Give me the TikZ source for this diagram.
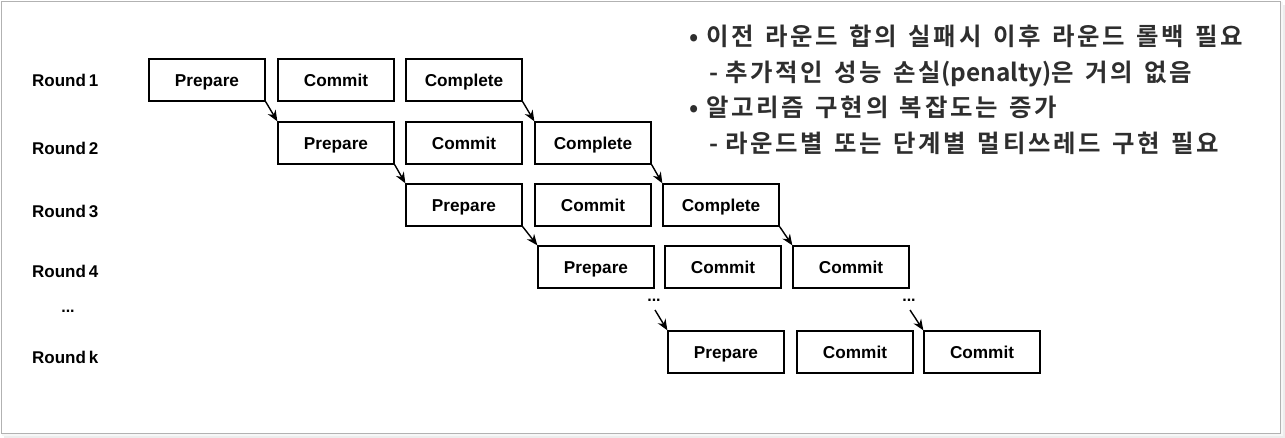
\documentclass[tikz,border=0pt]{standalone}
\usepackage{fontspec}
\setmainfont{Liberation Sans}
\newfontfamily\kor{Noto Sans CJK KR}[BoldFont={* Bold},LetterSpace=11,WordSpace=1.4]
\newfontfamily\korlat{Noto Sans CJK KR}[BoldFont={* Bold}]
\usetikzlibrary{arrows.meta}
\begin{document}
\begin{tikzpicture}[x=1pt,y=-1pt,
  stage/.style={draw=black,line width=1.3pt,minimum width=116pt,minimum height=42pt,inner sep=0pt,
    text height=12.2pt,text depth=0pt,
    font=\fontsize{17.2}{18}\selectfont\bfseries},
  rlabel/.style={anchor=west,inner sep=0pt,font=\fontsize{17}{18}\selectfont\bfseries},
  link/.style={line width=1.4pt,-{Stealth[length=11pt,width=9pt]}},
  dotsl/.style={inner sep=0pt,font=\fontsize{16}{18}\selectfont\bfseries},
  kline/.style={anchor=west,inner sep=0pt,text=black!82,font=\fontsize{24.4}{26}\selectfont\kor\bfseries}]
\useasboundingbox (0,0) rectangle (1285,438);
% frame with shadow
\fill[black!7] (4,5) rectangle (1285,438);
\fill[black!3] (2,2) rectangle (1283,436);
\fill[white] (2,2) rectangle (1280,433);
\draw[black!30,line width=1.5pt] (1.5,1.5) rectangle (1280.5,433.5);
% round labels
\node[rlabel] (r1) at (32,80) {Round\,1};
\node[rlabel] (r2) at (32,148) {Round\,2};
\node[rlabel] (r3) at (32,211) {Round\,3};
\node[rlabel] (r4) at (32,271) {Round\,4};
\node[dotsl] (rd) at (68,311) {...};
\node[rlabel] (rk) at (32,357) {Round\,k};
% row 1
\node[stage] (p1) at (207,80) {Prepare};
\node[stage] (c1) at (336,80) {Commit};
\node[stage] (f1) at (464,80) {Complete};
% row 2
\node[stage] (p2) at (336,143) {Prepare};
\node[stage] (c2) at (464,143) {Commit};
\node[stage] (f2) at (593,143) {Complete};
% row 3
\node[stage] (p3) at (464,205) {Prepare};
\node[stage] (c3) at (593,205) {Commit};
\node[stage] (f3) at (721,205) {Complete};
% row 4
\node[stage] (p4) at (596,267) {Prepare};
\node[stage] (c4) at (723,267) {Commit};
\node[stage] (f4) at (851,267) {Commit};
% row k
\node[stage] (pk) at (726,352) {Prepare};
\node[stage] (ck) at (855,352) {Commit};
\node[stage] (fk) at (982,352) {Commit};
% dots
\node[dotsl] (d1) at (654,300) {...};
\node[dotsl] (d2) at (909,300) {...};
\coordinate (d1b) at (655,310);
\coordinate (d2b) at (910,310);
% arrows
\draw[link] (p1.south east) -- (p2.north west);
\draw[link] (f1.south east) -- (f2.north west);
\draw[link] (p2.south east) -- (p3.north west);
\draw[link] (f2.south east) -- (f3.north west);
\draw[link] (p3.south east) -- (p4.north west);
\draw[link] (f3.south east) -- (f4.north west);
\draw[link] (d1b) -- (pk.north west);
\draw[link] (d2b) -- (fk.north west);
% Korean text
\node[kline] (k1) at (689,36) {•\hspace{8pt}이전 라운드 합의 실패시 이후 라운드 롤백 필요};
\node[kline] (k2) at (709,74) {-\hspace{7pt}추가적인 성능 손실{\korlat(penalty)}은 거의 없음};
\node[kline] (k3) at (689,107) {•\hspace{8pt}알고리즘 구현의 복잡도는 증가};
\node[kline] (k4) at (709,143) {-\hspace{7pt}라운드별 또는 단계별 멀티쓰레드 구현 필요};
\end{tikzpicture}
\end{document}
